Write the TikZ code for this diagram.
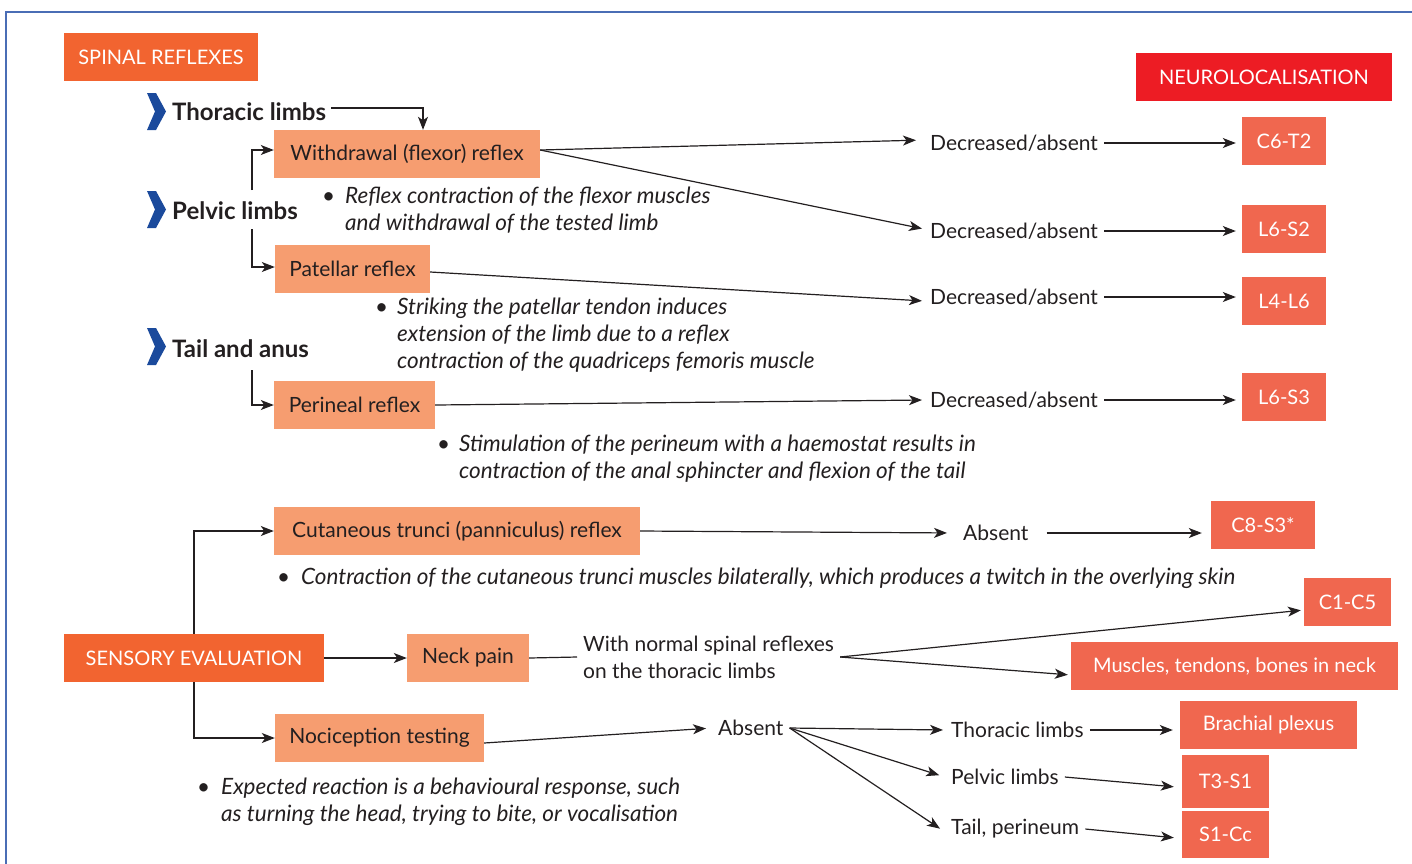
\documentclass[tikz,border=0pt]{standalone}
\usepackage{fontspec}
\setmainfont{Lato}
\usetikzlibrary{arrows.meta,calc}
\definecolor{ink}{HTML}{231F20}
\definecolor{salmon}{HTML}{F69D70}
\definecolor{hdrorange}{HTML}{F26430}
\definecolor{neured}{HTML}{ED1C24}
\definecolor{resred}{HTML}{F0674F}
\definecolor{chevblue}{HTML}{1B4A9C}
\definecolor{frameblue}{HTML}{4A6DB5}
\begin{document}
\begin{tikzpicture}[x=1pt,y=-1pt,
  every node/.style={font=\fontsize{21}{27}\selectfont, text=ink},
  box/.style={fill=salmon, minimum height=48pt, inner sep=0pt},
  hdr/.style={fill=hdrorange, minimum height=48pt, inner sep=0pt, text=white, font=\fontsize{20}{24}\selectfont},
  res/.style={fill=resred, minimum height=48pt, inner sep=0pt, text=white, font=\fontsize{20}{24}\selectfont},
  lbl/.style={inner sep=6pt, anchor=west},
  head/.style={inner sep=0pt, anchor=west, font=\fontsize{24}{26}\selectfont\bfseries},
  note/.style={inner sep=0pt, anchor=west, font=\fontsize{22.5}{27}\selectfont\itshape},
  arr/.style={draw=ink, line width=1.2pt, -{Stealth[length=13pt,width=10pt,inset=3.5pt]}},
  ln/.style={draw=ink, line width=1.2pt},
  chev/.style={fill=chevblue}
]
\useasboundingbox (0,0) rectangle (1412,863);
\draw[frameblue, line width=1.3pt] (6,880) -- (6,12) -- (1430,12);

% headers
\node[hdr, minimum width=194pt] (spinal) at (161,57) {SPINAL REFLEXES};
\node[hdr, fill=neured, minimum width=256pt] (neuro) at (1264,77) {NEUROLOCALISATION};
\node[hdr, minimum width=260pt] (sensory) at (194,658) {SENSORY EVALUATION};

% group labels with chevrons
\fill[chev, shift={(147,93)}] (0,0)--(9,0)--(19,18.5)--(9,37)--(0,37)--(8,18.5)--cycle;
\fill[chev, shift={(147,191)}] (0,0)--(9,0)--(19,18.5)--(9,37)--(0,37)--(8,18.5)--cycle;
\fill[chev, shift={(147,328)}] (0,0)--(9,0)--(19,18.5)--(9,37)--(0,37)--(8,18.5)--cycle;
\node[head] (thor) at (172,112) {Thoracic limbs};
\node[head] (pelv) at (172,211) {Pelvic limbs};
\node[head] (tail) at (172,349) {Tail and anus};

% reflex boxes
\node[box, minimum width=266pt] (wd) at (407,154) {Withdrawal (flexor) reflex};
\node[box, minimum width=155pt] (pat) at (352.5,269) {Patellar reflex};
\node[box, minimum width=161pt] (per) at (354.5,405) {Perineal reflex};
\node[box, minimum width=366pt] (cut) at (457,531) {Cutaneous trunci (panniculus) reflex};
\node[box, minimum width=122pt] (neck) at (468,658) {Neck pain};
\node[box, minimum width=209pt] (noc) at (379.5,738) {Nociception testing};

% notes
\node[note] (n1) at (322,211.5) {\begin{tabular}{@{}l@{}l@{}}\makebox[23pt][l]{\textbullet}&Reflex contraction of the flexor muscles\\&and withdrawal of the tested limb\end{tabular}};
\node[note] (n2) at (375,336.5) {\begin{tabular}{@{}l@{}l@{}}\makebox[22pt][l]{\textbullet}&Striking the patellar tendon induces\\&extension of the limb due to a reflex\\&contraction of the quadriceps femoris muscle\end{tabular}};
\node[note] (n3) at (437,459.5) {\begin{tabular}{@{}l@{}l@{}}\makebox[22pt][l]{\textbullet}&Stimulation of the perineum with a haemostat results in\\&contraction of the anal sphincter and flexion of the tail\end{tabular}};
\node[note] (n4) at (277,579) {\begin{tabular}{@{}l@{}l@{}}\makebox[24pt][l]{\textbullet}&Contraction of the cutaneous trunci muscles bilaterally, which produces a twitch in the overlying skin\end{tabular}};
\node[note] (n5) at (197,803) {\begin{tabular}{@{}l@{}l@{}}\makebox[24pt][l]{\textbullet}&Expected reaction is a behavioural response, such\\&as turning the head, trying to bite, or vocalisation\end{tabular}};

% outcome labels
\node[lbl] (d1) at (924,143) {Decreased/absent};
\node[lbl] (d2) at (924,231) {Decreased/absent};
\node[lbl] (d3) at (924,297) {Decreased/absent};
\node[lbl] (d4) at (924,400) {Decreased/absent};
\node[lbl] (a1) at (957,533) {Absent};
\node[lbl, align=left] (nt) at (577,657) {With normal spinal reflexes\\on the thoracic limbs};
\node[lbl] (a2) at (712,728) {Absent};
\node[lbl] (tl) at (945,730) {Thoracic limbs};
\node[lbl] (pl) at (945,777) {Pelvic limbs};
\node[lbl] (tp) at (945,829) {Tail, perineum};

% neurolocalisation boxes
\node[res, minimum width=84pt] (r1) at (1284,141) {C6-T2};
\node[res, minimum width=84pt] (r2) at (1284,229) {L6-S2};
\node[res, minimum width=84pt] (r3) at (1284,301) {L4-L6};
\node[res, minimum width=84pt] (r4) at (1284,397) {L6-S3};
\node[res, minimum width=104pt] (r5) at (1263,525) {C8-S3*};
\node[res, minimum width=87pt] (r6) at (1347.5,602) {C1-C5};
\node[res, minimum width=327pt] (r7) at (1234.5,666) {Muscles, tendons, bones in neck};
\node[res, minimum width=177pt] (r8) at (1268.5,725) {Brachial plexus};
\node[res, minimum width=87pt, minimum height=53pt] (r9) at (1225.5,781.5) {T3-S1};
\node[res, minimum width=87pt, minimum height=47pt] (r10) at (1225.5,834.5) {S1-Cc};

% bracket coordinates
\coordinate (pb1) at (252,190);
\coordinate (pb2) at (252,229);
\coordinate (tb) at (252,370);

% connectors: spinal reflexes
\draw[arr] ([xshift=5pt,yshift=4pt]thor.east) -| ([xshift=16pt]wd.north);
\draw[arr] (pb1) |- ([yshift=4pt]wd.west);
\draw[arr] (pb2) |- ([yshift=2pt]pat.west);
\draw[arr] (tb) |- (per.west);
\draw[arr, shorten >=8pt] ([yshift=4pt]wd.east) -- ([yshift=3pt]d1.west);
\draw[arr, shorten >=2pt] ([yshift=4pt]wd.east) -- ([yshift=2pt]d2.west);
\draw[arr, shorten >=2pt] ([yshift=-3pt]pat.east) -- ([yshift=-4pt]d3.west);
\draw[arr, shorten >=2pt] (per.east) -- (d4.west);
\draw[arr, shorten >=6pt] (d1.east) -- (d1.east -| r1.west);
\draw[arr, shorten >=6pt] (d2.east) -- (d2.east -| r2.west);
\draw[arr, shorten >=6pt] (d3.east) -- (d3.east -| r3.west);
\draw[arr, shorten >=6pt] (d4.east) -- (d4.east -| r4.west);

% connectors: sensory evaluation
\draw[arr] (sensory.north) |- (cut.west);
\draw[arr] (sensory.south) |- (noc.west);
\draw[arr] (sensory.east) -- (neck.west);
\draw[arr, shorten >=10pt] (cut.east) -- (a1.west);
\draw[arr, shorten <=12pt, shorten >=9pt] (a1.east) -- (a1.east -| r5.west);
\draw[ln] (neck.east) -- (nt.west);
\draw[arr, shorten >=3pt] (nt.east) -- ([yshift=-8pt]r6.west);
\draw[arr, shorten >=3pt] (nt.east) -- ([yshift=-9pt]r7.west);
\draw[arr, shorten >=6pt] ([yshift=-5pt]noc.east) -- (a2.west);
\draw[arr, shorten >=2pt] (a2.east) -- (tl.west);
\draw[arr, shorten >=6pt] (a2.east) -- (pl.west);
\draw[arr, shorten >=6pt] (a2.east) -- ([yshift=-3pt]tp.west);
\draw[arr, shorten >=7pt] (tl.east) -- ([yshift=-5pt]r8.west);
\draw[arr, shorten >=8pt] (pl.east) -- ([yshift=-6pt]r9.west);
\draw[arr, shorten >=8pt] (tp.east) -- ([yshift=-4pt]r10.west);
\end{tikzpicture}
\end{document}
